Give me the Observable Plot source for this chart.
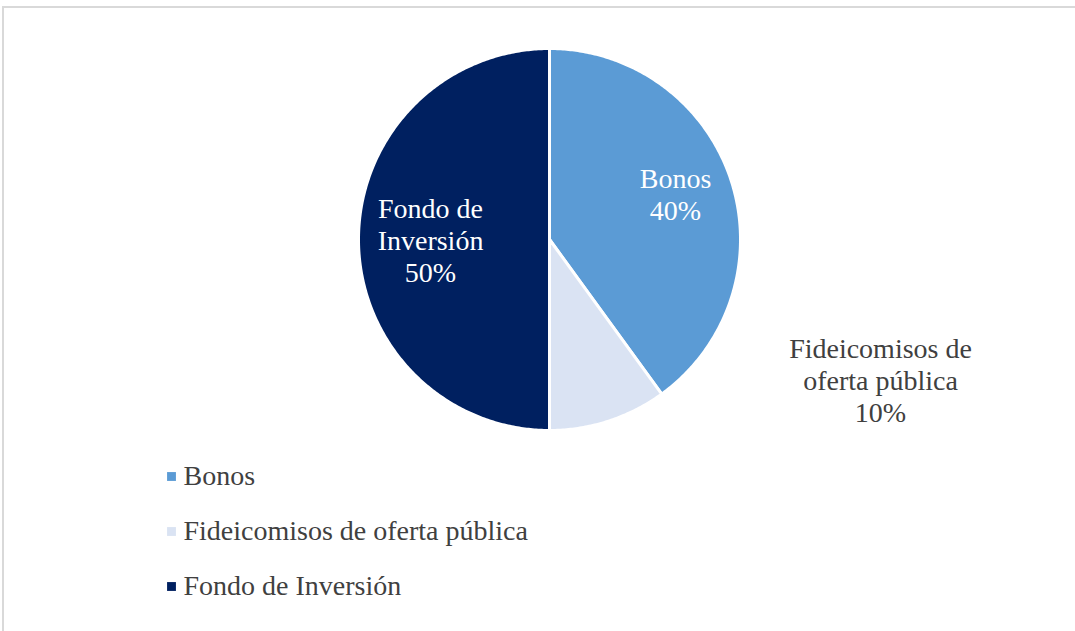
<!DOCTYPE html>
<html>
<head>
<meta charset="utf-8">
<script src="https://cdn.jsdelivr.net/npm/d3@7"></script>
<script src="https://cdn.jsdelivr.net/npm/@observablehq/plot@0.6"></script>
<style>
  html, body { margin: 0; padding: 0; background: #fff; overflow: hidden; }
  #wrap { position: relative; width: 1075px; height: 631px; }
  #border { position: absolute; left: 2px; top: 6px; width: 1200px; height: 800px;
            border: 2px solid #d9d9d9; box-sizing: border-box; }
  #chart { position: absolute; left: 0; top: 0; }
</style>
</head>
<body>
<div id="wrap"><div id="border"></div><div id="chart"></div></div>
<script>
// ---- data ----
const categories = ["Bonos", "Fideicomisos de oferta pública", "Fondo de Inversión"];
const values = [40, 10, 50];
const labelTexts = ["Bonos\n40%", "Fideicomisos de\noferta pública\n10%", "Fondo de\nInversión\n50%"];
const colors = ["#5B9BD5", "#DAE3F3", "#002060"];
const labelColors = ["white", "#404040", "white"];

// ---- layout ----
const W = 1075, H = 631;
const cx = 549, cy = 239, R = 191;
const labelPos = [[675, 193], [880, 379], [430, 239]];   // pixel layout anchors
const legendX = 171, legendTextX = 183, legendY0 = 476, legendDY = 55;

const slices = categories.map((c, i) => ({category: c, value: values[i]}));
const arcs = d3.pie().sort(null).value(d => d.value)(slices);

// polygon outline of each slice (geometry only)
const pts = [];
for (const a of arcs) {
  const cat = a.data.category;
  pts.push({category: cat, x: cx, y: cy});
  const n = Math.max(2, Math.ceil((a.endAngle - a.startAngle) / 0.01));
  for (let k = 0; k <= n; k++) {
    const t = a.startAngle + (a.endAngle - a.startAngle) * k / n;
    pts.push({category: cat, x: cx + R * Math.sin(t), y: cy - R * Math.cos(t)});
  }
  pts.push({category: cat, x: cx, y: cy});
}

const labels = categories.map((c, i) => ({category: c, text: labelTexts[i], x: labelPos[i][0], y: labelPos[i][1], color: labelColors[i]}));
const legend = categories.map((c, i) => ({category: c, x: legendX, tx: legendTextX, y: legendY0 + i * legendDY}));

const font = "Liberation Serif";

const chart = Plot.plot({
  width: W, height: H,
  margin: 0,
  x: {domain: [0, W], range: [0, W], axis: null},
  y: {domain: [0, H], range: [0, H], axis: null},
  color: {domain: categories, range: colors},
  style: {fontFamily: font, background: "transparent"},
  marks: [
    Plot.line(pts, {x: "x", y: "y", z: "category", fill: "category", stroke: "white", strokeWidth: 3, strokeLinejoin: "round", curve: "linear"}),
    Plot.text(labels, {x: "x", y: "y", text: "text", fill: "color", fontSize: 28, lineHeight: 1.14, textAnchor: "middle", fontFamily: font}),
    Plot.dot(legend, {x: "x", y: "y", fill: "category", symbol: "square", r: 5, stroke: null}),
    Plot.text(legend, {x: "tx", y: "y", text: "category", fill: "#404040", fontSize: 28, textAnchor: "start", fontFamily: font})
  ]
});
document.getElementById("chart").appendChild(chart);
</script>
</body>
</html>
